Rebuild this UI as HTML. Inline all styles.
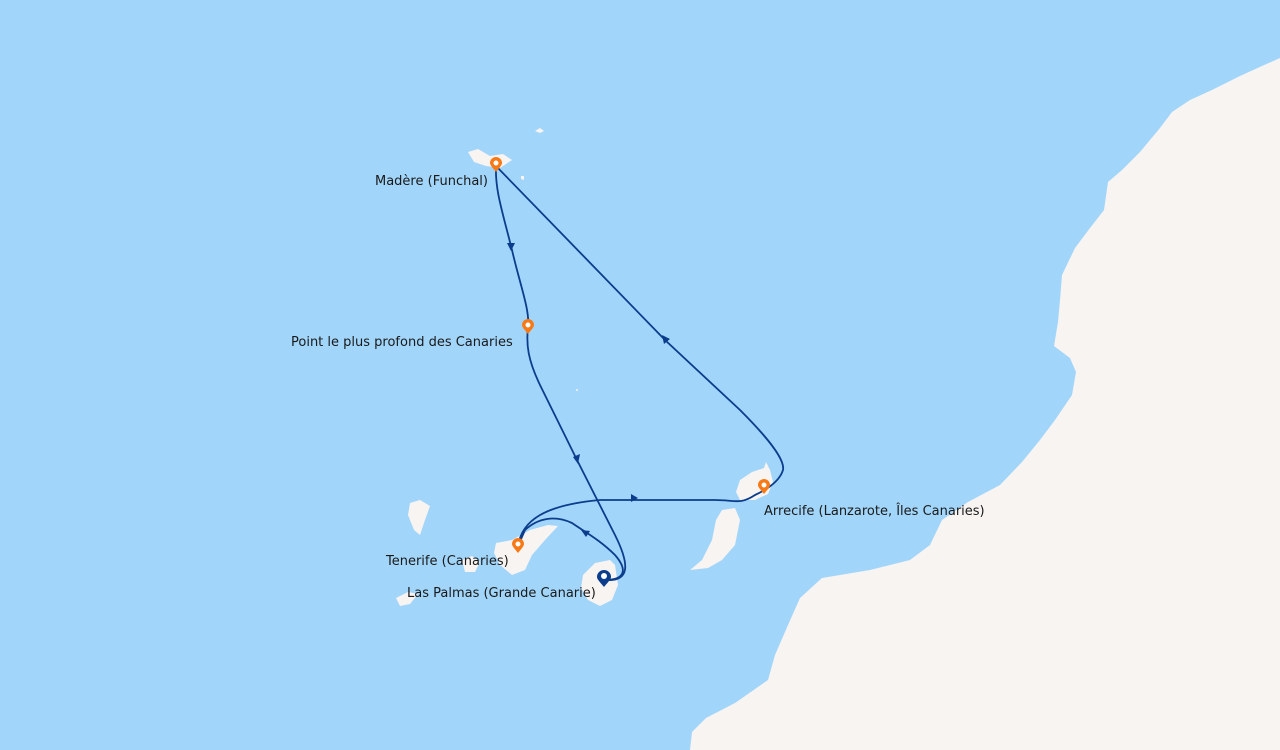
<!DOCTYPE html>
<html><head><meta charset="utf-8"><style>
html,body{margin:0;padding:0;width:1280px;height:750px;overflow:hidden;background:#a2d5fa}
svg{display:block}
text{font-family:"DejaVu Sans","Liberation Sans",sans-serif;font-size:13px;fill:#1a1a1a}
</style></head><body>
<svg width="1280" height="750" viewBox="0 0 1280 750">
<rect width="1280" height="750" fill="#a2d5fa"/>
<path fill="#f8f4f2" d="M1280,58 L1262,66 1240,76 1212,90 1190,100 1172,112 1160,128 1140,152 1122,170 1108,182 1104,210 1090,228 1075,248 1062,275 1060,300 1058,322 1054,346 1070,358 1076,372 1072,395 1055,420 1040,440 1022,462 1000,485 968,502 942,520 930,545 910,560 870,570 822,578 800,598 788,625 775,655 768,680 735,703 706,718 692,732 690,750 1280,750Z"/>
<path fill="#f8f4f2" d="M468,152 L478,149 490,156 503,154 512,160 500,168 486,166 474,162Z"/>
<path fill="#f8f4f2" d="M535,131 l5,-3 4,3 -4,2z"/>
<path fill="#f8f4f2" d="M521,176 l3,0 0,4 -3,-1z"/>
<path fill="#f8f4f2" d="M410,503 L420,500 430,506 425,520 420,535 414,530 408,515Z"/>
<path fill="#f8f4f2" d="M496,543 L512,540 530,530 548,525 558,526 545,540 532,555 525,570 512,575 500,565 494,553Z"/>
<path fill="#f8f4f2" d="M462,560 L472,556 480,562 475,572 465,572Z"/>
<path fill="#f8f4f2" d="M396,598 L408,592 418,594 410,604 400,606Z"/>
<path fill="#f8f4f2" d="M583,575 L595,563 610,560 615,565 618,585 612,600 600,606 588,600 581,588Z"/>
<path fill="#f8f4f2" d="M740,480 L752,472 764,468 766,462 770,470 773,482 768,494 755,500 740,500 736,492Z"/>
<path fill="#f8f4f2" d="M722,510 L735,508 740,520 735,545 722,560 708,568 690,570 702,560 712,540 716,520Z"/>
<circle cx="577" cy="390" r="1" fill="#f8f4f2"/>
<g fill="none" stroke="#0b3d8c" stroke-width="1.8">
<path d="M496,166 C495,190 502,210 512,250 C520,285 530,310 528,327 C526,345 528,360 540,385 L577,460 L615,535 C630,565 630,582 605,580"/>
<path d="M605,580 C625,580 628,570 615,555 C600,540 585,532 572,523 C555,515 538,518 525,530 L518,546"/>
<path d="M518,546 C522,520 545,505 600,500 L715,500 C735,500 740,505 755,495 C770,488 780,480 783,470 C785,460 770,440 740,410 L665,340 L496,166"/>
</g>
<g fill="#0b3d8c">
<path d="M511,251 l-4,-8 8,0z"/>
<path d="M578,464 l-5,-7 7,-3z"/>
<path d="M581,530 l9,1 -4,6z"/>
<path d="M638,498 l-7,-4 0,8z"/>
<path d="M662,335 l2,9 6,-5z"/>
</g>
<g>
<path d="M496,172 c-4,-5 -6,-7 -6,-9 a6,6 0 1 1 12,0 c0,2 -2,4 -6,9z" fill="#f77a17"/><circle cx="496" cy="163" r="2.5" fill="#fff"/>
<path d="M528,334 c-4,-5 -6,-7 -6,-9 a6,6 0 1 1 12,0 c0,2 -2,4 -6,9z" fill="#f77a17"/><circle cx="528" cy="325" r="2.5" fill="#fff"/>
<path d="M518,553 c-4,-5 -6,-7 -6,-9 a6,6 0 1 1 12,0 c0,2 -2,4 -6,9z" fill="#f77a17"/><circle cx="518" cy="544" r="2.5" fill="#fff"/>
<path d="M764,494 c-4,-5 -6,-7 -6,-9 a6,6 0 1 1 12,0 c0,2 -2,4 -6,9z" fill="#f77a17"/><circle cx="764" cy="485" r="2.5" fill="#fff"/>
<path d="M604,587 c-5,-6 -7,-8 -7,-10 a7,7 0 1 1 14,0 c0,2 -2,4 -7,10z" fill="#0b3d8c"/><circle cx="604" cy="576" r="3" fill="#fff"/>
</g>
<text x="375" y="185">Madère (Funchal)</text>
<text x="291" y="346">Point le plus profond des Canaries</text>
<text x="386" y="565">Tenerife (Canaries)</text>
<text x="407" y="597">Las Palmas (Grande Canarie)</text>
<text x="764" y="515">Arrecife (Lanzarote, Îles Canaries)</text>
</svg>
</body></html>
